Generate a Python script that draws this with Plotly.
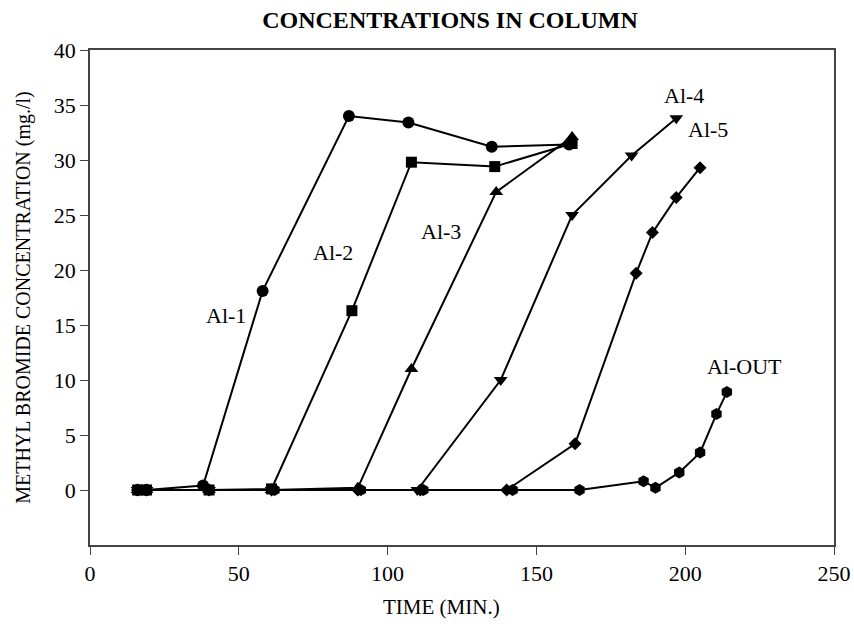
import plotly.graph_objects as go

series_names = ["Al-1", "Al-2", "Al-3", "Al-4", "Al-5", "Al-OUT"]

t_al1 = [16, 19, 38, 58, 87, 107, 135, 161]
c_al1 = [0, 0, 0.4, 18.1, 34.0, 33.4, 31.2, 31.4]

t_al2 = [16, 19, 40, 61, 88, 108, 136, 162]
c_al2 = [0, 0, 0, 0.1, 16.3, 29.8, 29.4, 31.5]

t_al3 = [16, 19, 40, 61, 90, 108, 136.5, 162]
c_al3 = [0, 0, 0, 0, 0.2, 11.0, 27.1, 32.1]

t_al4 = [16, 19, 40, 61, 90, 110, 138, 162, 182, 197]
c_al4 = [0, 0, 0, 0, 0, 0, 10.0, 25.0, 30.4, 33.8]

t_al5 = [16, 19, 40, 61, 90, 111, 140, 163, 183.5, 189, 197, 205]
c_al5 = [0, 0, 0, 0, 0, 0, 0, 4.2, 19.7, 23.4, 26.6, 29.3]

t_out = [16, 19, 40, 62, 91, 112, 142, 164.5, 186, 190, 198, 205, 210.5, 214]
c_out = [0, 0, 0, 0, 0, 0, 0, 0, 0.8, 0.2, 1.6, 3.4, 6.9, 8.9]

x_ticks = [0, 50, 100, 150, 200, 250]
y_ticks = [0, 5, 10, 15, 20, 25, 30, 35, 40]

label_x = [45.6, 81.5, 118, 199.5, 207.5, 220]
label_y = [15.9, 21.6, 23.5, 35.9, 32.8, 11.2]

symbols = ["circle", "square", "triangle-up", "triangle-down", "diamond", "hexagon"]
sizes = [12, 11, 12, 12, 10, 12]

data = [(t_al1, c_al1), (t_al2, c_al2), (t_al3, c_al3), (t_al4, c_al4), (t_al5, c_al5), (t_out, c_out)]

FONT = "Liberation Serif"
AX = "#444444"

fig = go.Figure()
for name, (t, c), sym, sz in zip(series_names, data, symbols, sizes):
    fig.add_trace(go.Scatter(
        x=t, y=c, name=name, mode="lines+markers",
        line=dict(color="black", width=2),
        marker=dict(symbol=sym, size=sz, color="black"),
        showlegend=False,
    ))

for name, lx, ly in zip(series_names, label_x, label_y):
    fig.add_annotation(x=lx, y=ly, text=name, showarrow=False,
                       font=dict(family=FONT, size=22, color="black"))

# x-axis title placed as an annotation
fig.add_annotation(x=0.472, xref="paper", y=0, yref="paper", yshift=-62,
                   yanchor="middle", text="TIME (MIN.)", showarrow=False,
                   font=dict(family=FONT, size=21, color="black"))

fig.update_layout(
    width=854, height=626,
    margin=dict(l=90, r=20, t=50, b=81),
    paper_bgcolor="white", plot_bgcolor="white",
    font=dict(family=FONT, size=21, color="black"),
    title=dict(text="<b>CONCENTRATIONS IN COLUMN</b>", x=450 / 854, xref="container",
               xanchor="center", y=1 - 20 / 626, yref="container", yanchor="middle",
               font=dict(family=FONT, size=24)),
)
fig.update_xaxes(
    range=[0, 250], tickvals=x_ticks, ticktext=[str(v) for v in x_ticks],
    showline=True, linecolor=AX, linewidth=1.5, mirror=True,
    ticks="outside", ticklen=8, tickcolor=AX, showgrid=False, zeroline=False,
    tickfont=dict(family=FONT, size=22),
    automargin=False,
)
fig.update_yaxes(
    range=[-5, 40], tickvals=y_ticks, ticktext=[str(v) for v in y_ticks],
    showline=True, linecolor=AX, linewidth=1.5, mirror=True,
    ticks="outside", ticklen=8, tickcolor=AX, showgrid=False, zeroline=False,
    tickfont=dict(family=FONT, size=22),
    automargin=False,
    title=dict(text="METHYL BROMIDE CONCENTRATION (mg./l)", font=dict(family=FONT, size=20), standoff=18),
)

fig.write_html(
    "out.html",
    config={"displayModeBar": False},
    post_script="document.body.style.margin='0';document.body.style.overflow='hidden';",
)
